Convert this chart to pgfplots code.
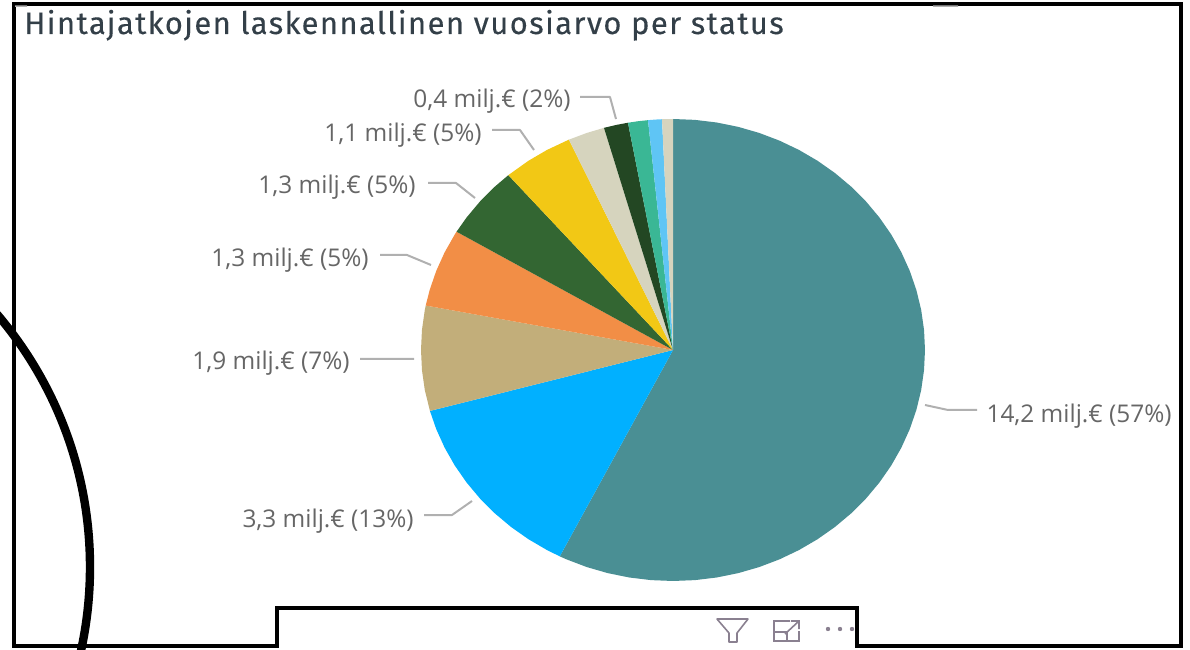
\documentclass[border=0pt]{standalone}
\usepackage{pgfplots}
\usepackage{fontspec}
\pgfplotsset{compat=1.18}
\usepgfplotslibrary{polar}
\setmainfont{Open Sans}
\newfontfamily\titlefont[LetterSpace=4.5,FakeBold=0.25]{Fira Sans}
\definecolor{cTeal}{HTML}{4A8F94}
\definecolor{cBlue}{HTML}{01B0FF}
\definecolor{cTan}{HTML}{C2AE7A}
\definecolor{cOrange}{HTML}{F28E46}
\definecolor{cGreen}{HTML}{336632}
\definecolor{cYellow}{HTML}{F2C815}
\definecolor{cBeige}{HTML}{D6D4BE}
\definecolor{cDark}{HTML}{234723}
\definecolor{cSea}{HTML}{3AB795}
\definecolor{cLight}{HTML}{5FC5F5}
\definecolor{cLead}{HTML}{B0B0B0}
\definecolor{cLabel}{HTML}{666666}
\definecolor{cTitle}{HTML}{333F48}
\definecolor{cIcon}{HTML}{8A8090}
\begin{document}
\begin{tikzpicture}
\clip (0,0) rectangle (595pt,324.5pt);
\begin{axis}[at={(0,0)},anchor=south west,scale only axis,width=595pt,height=324.5pt,
  hide axis,clip=false,
  xmin=-2.67063,xmax=2.05159,ymin=-1.29437,ymax=1.51515,
  every axis plot/.append style={data cs=polar,draw=none,line width=0pt}]
\addplot[fill=cTeal] coordinates {(0,0) (90,1) (85,1) (80,1) (75,1) (70,1) (65,1) (60,1) (55,1) (50,1) (45,1) (40,1) (35,1) (30,1) (25,1) (20,1) (15,1) (10,1) (5,1) (0,1) (-5,1) (-10,1) (-15,1) (-20,1) (-25,1) (-30,1) (-35,1) (-40,1) (-45,1) (-50,1) (-55,1) (-60,1) (-65,1) (-70,1) (-75,1) (-80,1) (-85,1) (-90,1) (-95,1) (-100,1) (-105,1) (-110,1) (-115,1) (-116.7,1)} --cycle;
\addplot[fill=cBlue] coordinates {(0,0) (243.3,1) (240,1) (235,1) (230,1) (225,1) (220,1) (215,1) (210,1) (205,1) (200,1) (195.3,1)} --cycle;
\addplot[fill=cTan] coordinates {(0,0) (195.3,1) (190,1) (185,1) (180,1) (175,1) (170,1) (168.9,1)} --cycle;
\addplot[fill=cOrange] coordinates {(0,0) (168.9,1) (165,1) (160,1) (155,1) (150,1) (149.2,1)} --cycle;
\addplot[fill=cGreen] coordinates {(0,0) (149.2,1) (145,1) (140,1) (135,1) (130.8,1)} --cycle;
\addplot[fill=cYellow] coordinates {(0,0) (130.8,1) (125,1) (120,1) (114.4,1)} --cycle;
\addplot[fill=cBeige] coordinates {(0,0) (114.4,1) (110,1) (105.9,1)} --cycle;
\addplot[fill=cDark] coordinates {(0,0) (105.9,1) (103,1) (100.3,1)} --cycle;
\addplot[fill=cSea] coordinates {(0,0) (100.3,1) (98,1) (95.7,1)} --cycle;
\addplot[fill=cLight] coordinates {(0,0) (95.7,1) (94,1) (92.5,1)} --cycle;
\addplot[fill=cBeige] coordinates {(0,0) (92.5,1) (91,1) (90,1)} --cycle;
\end{axis}
\begin{scope}[x=0.5pt,y=-0.5pt,shift={(0pt,324.5pt)}]
  % leader lines
  \draw[cLead,line width=1pt,line join=round]
    (925,405)--(948,410)--(977,410)
    (472,501)--(452,515)--(424,515)
    (414,359)--(360,359)
    (431,265)--(407,255)--(380,255)
    (475,198)--(456,183)--(428,183)
    (534,150)--(520,130)--(492,130)
    (616,119)--(610,97)--(580,97);
  % labels
  \begin{scope}[every node/.style={text=cLabel,font=\fontsize{12.2pt}{14pt}\selectfont,inner sep=0pt,anchor=base east}]
    \node at (1172,422) {14,2 milj.€ (57\%)};
    \node at (414,527) {3,3 milj.€ (13\%)};
    \node at (350,370) {1,9 milj.€ (7\%)};
    \node at (369,267) {1,3 milj.€ (5\%)};
    \node at (416,194) {1,3 milj.€ (5\%)};
    \node at (482,142) {1,1 milj.€ (5\%)};
    \node at (571,108) {0,4 milj.€ (2\%)};
  \end{scope}
  \node[anchor=base west,inner sep=0pt,text=cTitle,font=\titlefont\fontsize{15.5pt}{17pt}\selectfont] at (24,34) {Hintajatkojen laskennallinen vuosiarvo per status};
  % frame
  \draw[black,line width=2pt,line join=miter]
    (14,4)--(1181,4)--(1181,646)--(857,646)--(857,608)--(277,608)--(277,646)--(14,646)--cycle;
  \draw[black,line width=4.2pt] (-300,567) circle[radius=390];
  \fill[cLead] (15,5.5) rectangle (27,7) (933,5.5) rectangle (958,7);
  % toolbar icons
  \draw[cIcon,line width=0.8pt,line join=round]
    (717,619)--(748,619)--(737,633)--(737,642)--(729,642)--(729,633)--cycle;
  \draw[cIcon,line width=0.8pt]
    (790,621)--(774,621)--(774,641)--(799,641)--(799,631)
    (774,632)--(787,632)--(787,641)
    (785,634)--(799,621) (791,621)--(799,621)--(799,629);
  \fill[cIcon] (828,629) circle[radius=2.2] (840,629) circle[radius=2.2] (852,629) circle[radius=2.2];
\end{scope}
\end{tikzpicture}
\end{document}
